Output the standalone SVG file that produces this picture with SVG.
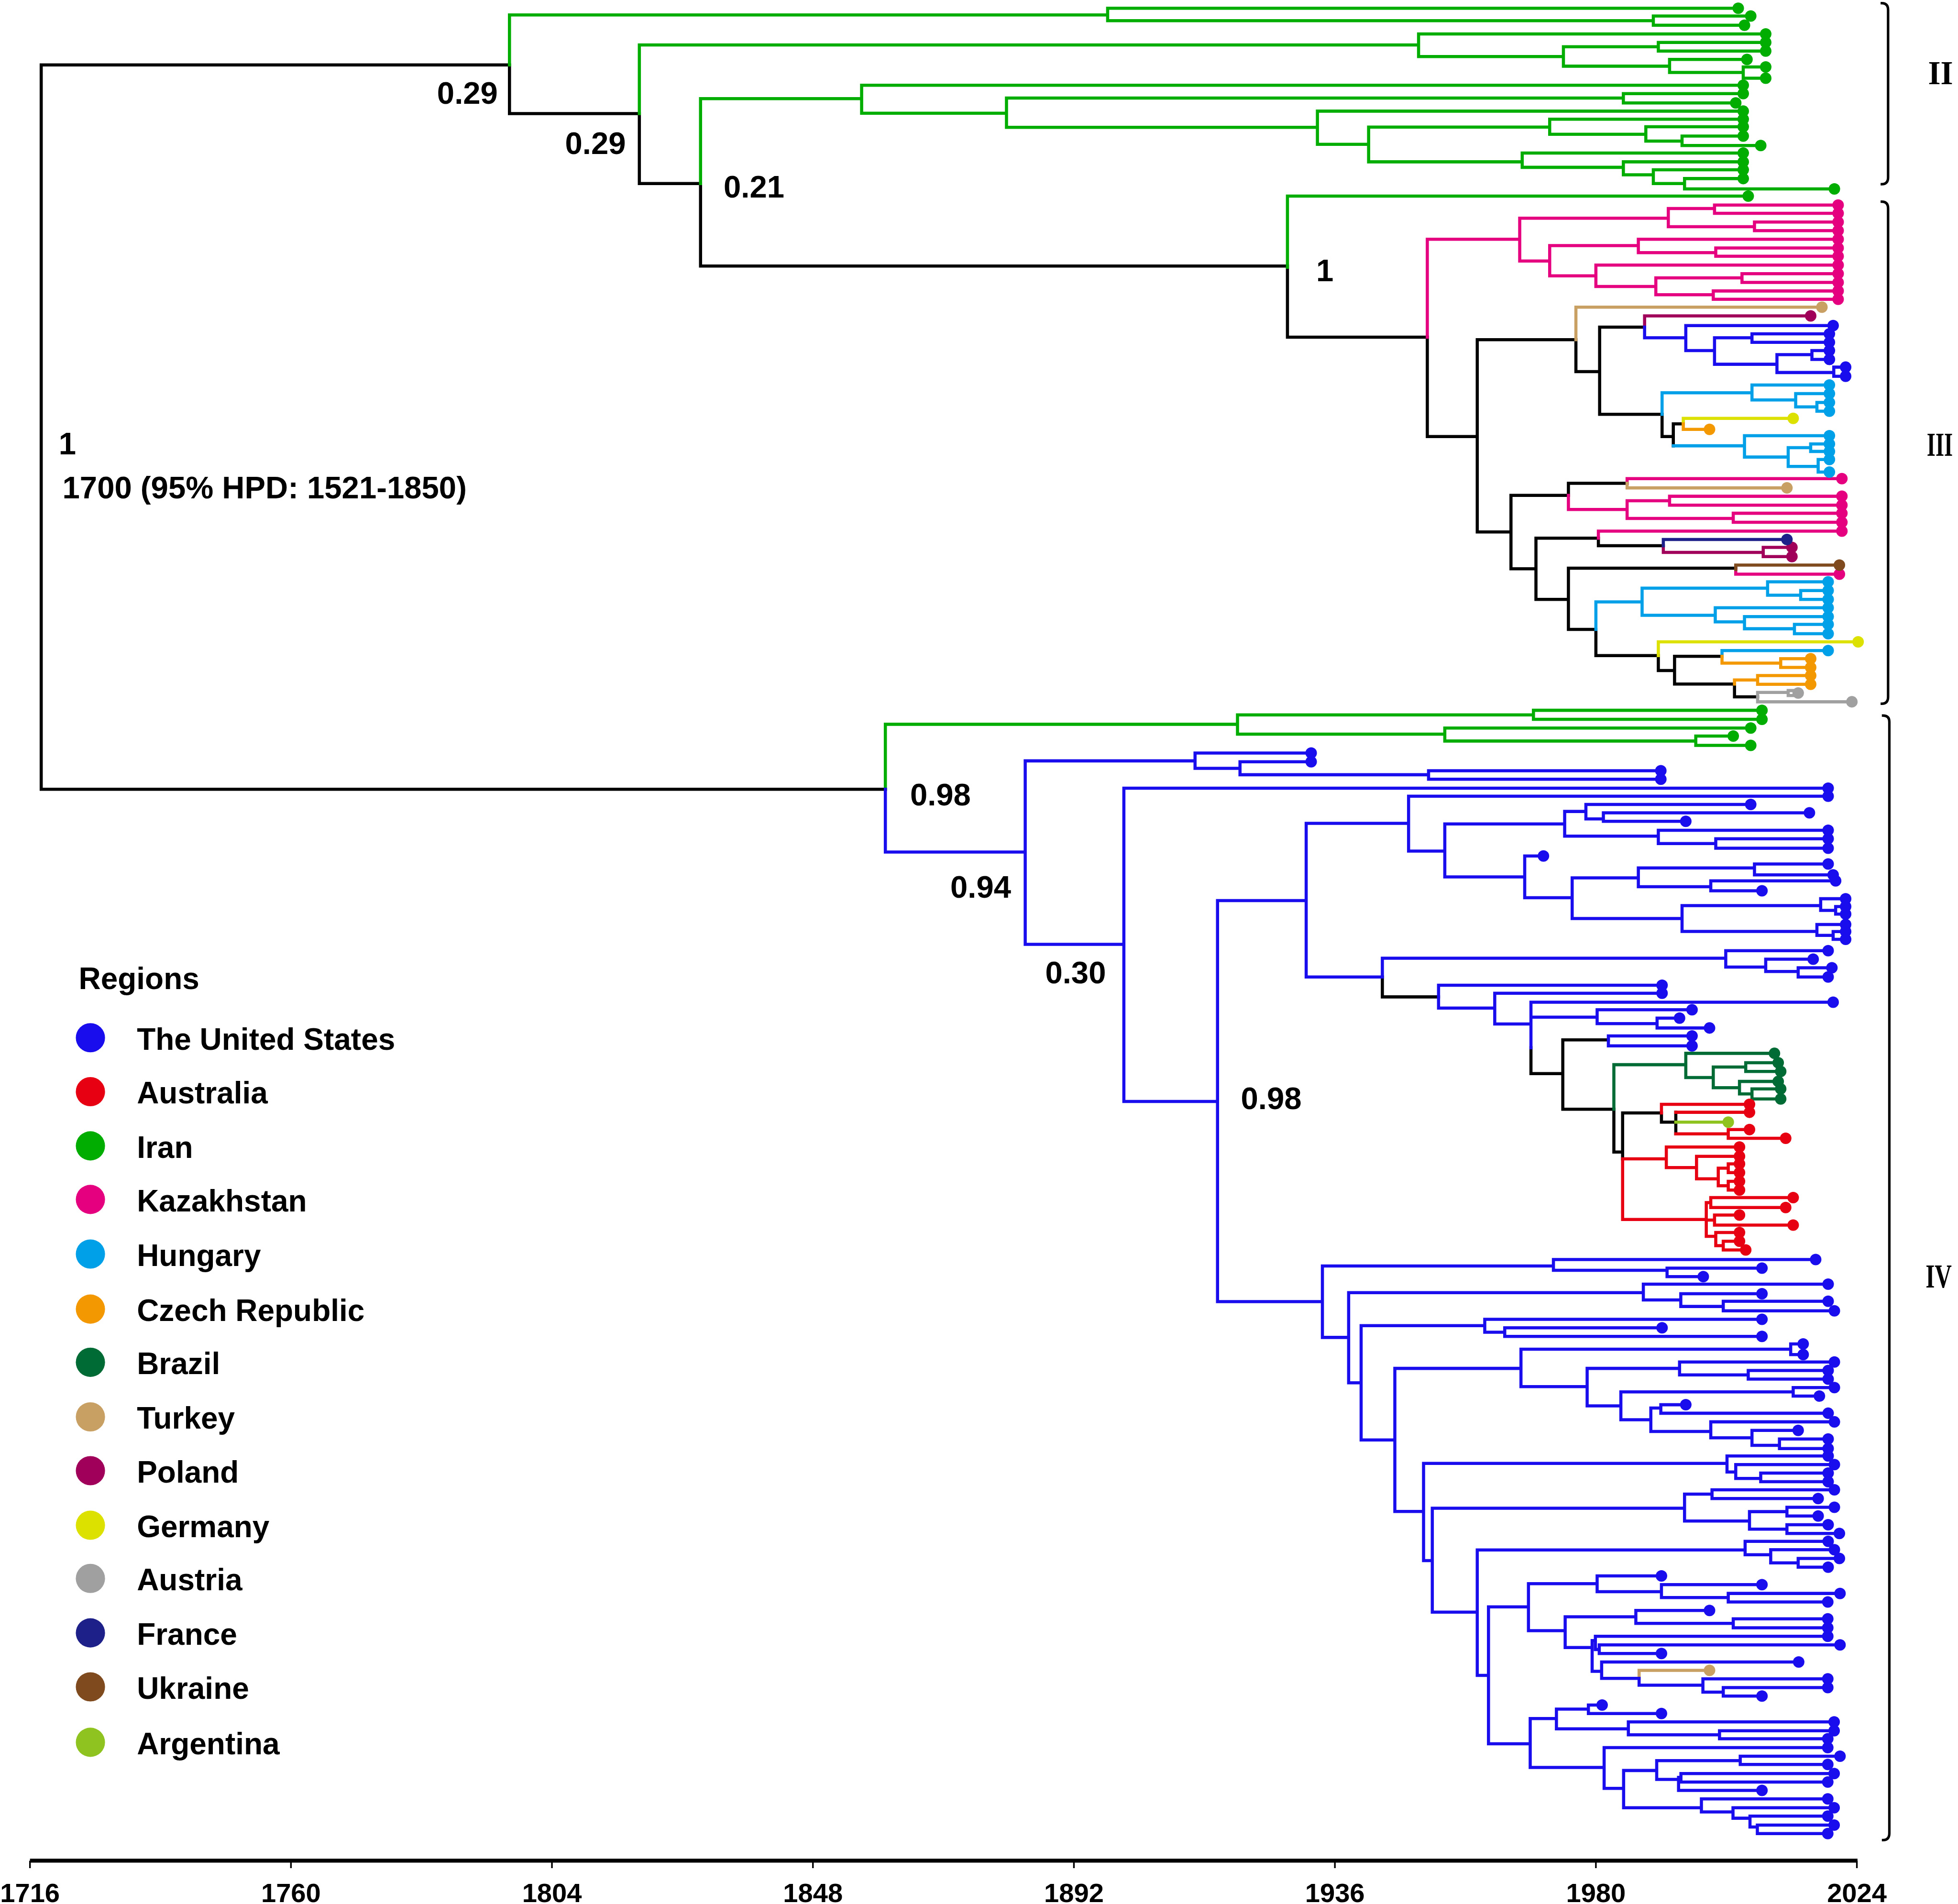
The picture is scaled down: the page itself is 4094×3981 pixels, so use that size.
<svg xmlns="http://www.w3.org/2000/svg" width="4094" height="3981" viewBox="0 0 4094 3981">
<style>
path{fill:none;stroke-width:2.5;stroke-linecap:square}
circle{stroke:none}
text{font-family:"Liberation Sans",Arial,sans-serif;font-weight:bold;fill:#000}
.lbl{font-size:25px}
.leg{font-size:24.5px}
.ax{font-size:21.5px;text-anchor:middle}
.cl{font-family:"Liberation Serif","Times New Roman",serif;font-size:27px}
path.k{stroke:#000}
path.us{stroke:#1a0ded} circle.us{fill:#1a0ded}
path.au{stroke:#e60012} circle.au{fill:#e60012}
path.ir{stroke:#00ad00} circle.ir{fill:#00ad00}
path.kz{stroke:#e4007f} circle.kz{fill:#e4007f}
path.hu{stroke:#00a0e9} circle.hu{fill:#00a0e9}
path.cz{stroke:#f39800} circle.cz{fill:#f39800}
path.br{stroke:#006b35} circle.br{fill:#006b35}
path.tr{stroke:#c9a063} circle.tr{fill:#c9a063}
path.pl{stroke:#a0005a} circle.pl{fill:#a0005a}
path.de{stroke:#dce100} circle.de{fill:#dce100}
path.at{stroke:#a0a0a0} circle.at{fill:#a0a0a0}
path.fr{stroke:#1d2088} circle.fr{fill:#1d2088}
path.ua{stroke:#7f4a1e} circle.ua{fill:#7f4a1e}
path.ar{stroke:#8fc31f} circle.ar{fill:#8fc31f}
path.br2{stroke:#000;stroke-width:2}
path.axl{stroke:#000;stroke-width:3.1;stroke-linecap:butt}
path.tick{stroke:#000;stroke-width:1.3;stroke-linecap:butt}
</style>
<rect width="4094" height="3981" fill="#fff"/>
<g transform="scale(2.611)">
<g id="connectors">
<path class="k" d="M33 52V632M33 52H408M33 632H709M408 52V91M408 91H512M512 91V147M512 147H561M561 147V213M561 213H1031M1031 214V270M1031 270H1143M1143 270V349.6M1143 349.6H1183M1183 272V426M1183 272H1262M1183 426H1210M1262 272V297.6M1262 297.6H1281M1281 262V331.8M1281 262H1317M1281 331.8H1331M1331 331.8V349.6M1331 349.6H1340M1340 339.4V357M1340 339.4H1348M1210 396.7V455.5M1210 396.7H1256M1210 455.5H1230M1256 387V396.7M1256 387H1303M1230 431V480M1230 431H1280M1230 480H1256M1280 431V437M1280 437H1332M1256 455V504M1256 455H1390M1256 504H1278M1278 504V525M1278 525H1328M1328 525V537M1328 537H1341M1341 525.6V547.8M1341 525.6H1379M1341 547.8H1389M1389 547.8V558M1389 558H1407.5M1107 782.4V798.3M1107 798.3H1152M1226 839V859.7M1226 859.7H1251.5M1251.5 832.7V888.3M1251.5 832.7H1288M1251.5 888.3H1292.4M1292.4 888.3V922.5M1292.4 922.5H1299.4M1299.4 891.2V928M1299.4 891.2H1330.5M1330.5 891.2V898.6M1330.5 898.6H1342M1342 890.7V908"/>
<path class="ir" d="M408 12V52M408 12H887M887 6.6V16.6M887 6.6H1392M887 16.6H1324M1324 12.8V20.2M1324 12.8H1402M1324 20.2H1397M512 36V91M512 36H1136M1136 27.2V45.3M1136 27.2H1414M1136 45.3H1252M1252 37.4V53M1252 37.4H1328M1252 53H1337M1328 34V40.9M1328 34H1414M1328 40.9H1414M1337 47.6V58M1337 47.6H1399M1337 58H1396M1396 53.6V62.6M1396 53.6H1414M1396 62.6H1414M561 79V147M561 79H690M690 68.3V90.7M690 68.3H1396M690 90.7H806M806 78.5V102M806 78.5H1300M806 102H1055M1300 75V82.4M1300 75H1396M1300 82.4H1390M1055 89V115.6M1055 89H1396M1055 115.6H1096M1096 101.8V129.6M1096 101.8H1241M1096 129.6H1219M1241 95.5V107.5M1241 95.5H1396M1241 107.5H1318M1318 101.5V113M1318 101.5H1396M1318 113H1347M1347 109V116.5M1347 109H1396M1347 116.5H1410M1219 122.6V134M1219 122.6H1396M1219 134H1300M1300 129.6V140M1300 129.6H1396M1300 140H1324M1324 136V147M1324 136H1396M1324 147H1349M1349 143V151.3M1349 143H1396M1349 151.3H1469M1031 157V214M1031 157H1400M709 580V632M709 580H991M991 572.5V587.9M991 572.5H1228M991 587.9H1157M1228 568.8V576M1228 568.8H1411M1228 576H1411M1157 583V593.4M1157 583H1402M1157 593.4H1358M1358 589.4V596.9M1358 589.4H1388M1358 596.9H1402"/>
<path class="kz" d="M1143 191.6V270M1143 191.6H1217M1217 174.7V209M1217 174.7H1336M1217 209H1241M1336 167V181.5M1336 167H1373M1336 181.5H1405M1373 164.2V170.8M1373 164.2H1472M1373 170.8H1472M1405 177.8V184.7M1405 177.8H1472M1405 184.7H1472M1241 196.7V220.9M1241 196.7H1312M1241 220.9H1278M1312 191.6V202.3M1312 191.6H1472M1312 202.3H1374M1374 198.6V205.2M1374 198.6H1472M1374 205.2H1472M1278 212.3V229.4M1278 212.3H1472M1278 229.4H1326M1326 222.5V236M1326 222.5H1395M1326 236H1372M1395 219.2V226.2M1395 219.2H1472M1395 226.2H1472M1372 233V239.7M1372 233H1472M1372 239.7H1472M1256 396.7V408M1256 408H1303M1303 383.3V387M1303 383.3H1475M1303 401V415.2M1303 401H1337M1303 415.2H1388M1337 397.4V404.5M1337 397.4H1475M1337 404.5H1475M1388 411V418.2M1388 411H1475M1388 418.2H1475M1280 425.3V431M1280 425.3H1475M1390 456V459.8M1390 459.8H1473"/>
<path class="tr" d="M1262 246V272M1262 246H1459M1303 387V390.7M1303 390.7H1431M1312.6 1337.6V1344M1312.6 1337.6H1369"/>
<path class="pl" d="M1317 253V262M1317 253H1450M1332 437V442.4M1332 442.4H1412M1412 438.3V445.7M1412 438.3H1435M1412 445.7H1435"/>
<path class="fr" d="M1332 432V437M1332 432H1431"/>
<path class="ua" d="M1390 452.5V456M1390 452.5H1473"/>
<path class="hu" d="M1331 314.5V331.8M1331 314.5H1403M1403 308.3V320.3M1403 308.3H1465M1403 320.3H1438M1438 315.2V325.8M1438 315.2H1465M1438 325.8H1455M1455 322.3V329.3M1455 322.3H1465M1455 329.3H1465M1340 357H1397M1397 348.9V366M1397 348.9H1465M1397 366H1432M1432 358.5V373.5M1432 358.5H1450M1432 373.5H1456M1450 355.5V361.5M1450 355.5H1465M1450 361.5H1465M1456 368V378M1456 368H1465M1456 378H1465M1278 482V504M1278 482H1315M1315 471V492.7M1315 471H1415.5M1315 492.7H1373.6M1415.5 465.9V476.6M1415.5 465.9H1464M1415.5 476.6H1442M1442 472.9V480M1442 472.9H1464M1442 480H1464M1373.6 486.7V498M1373.6 486.7H1464M1373.6 498H1397M1397 493.8V503.5M1397 493.8H1464M1397 503.5H1437M1437 500V507.5M1437 500H1464M1437 507.5H1464M1379 521V525.6M1379 521H1464"/>
<path class="de" d="M1348 335V339.4M1348 335H1436M1328 514V525M1328 514H1488"/>
<path class="cz" d="M1348 339.4V343.8M1348 343.8H1369M1379 525.6V531M1379 531H1426M1426 527.5V534.5M1426 527.5H1450M1426 534.5H1450M1389 544.5V547.8M1389 544.5H1407.5M1407.5 541V548M1407.5 541H1450M1407.5 548H1450"/>
<path class="at" d="M1407.5 554.5V562M1407.5 554.5H1432M1407.5 562H1483M1432 553V557M1432 553H1440M1432 557H1440"/>
<path class="us" d="M1317 262V270.5M1317 270.5H1350M1350 260.7V280.7M1350 260.7H1468M1350 280.7H1373M1373 270.5V291.7M1373 270.5H1403M1373 291.7H1423M1403 267.3V274.1M1403 267.3H1465M1403 274.1H1465M1423 284V298.3M1423 284H1451M1423 298.3H1468.5M1451 280.7V287.8M1451 280.7H1465M1451 287.8H1465M1468.5 294V301.3M1468.5 294H1478M1468.5 301.3H1478
M709 632V682.3M709 682.3H821M821 609.3V756.2M821 609.3H957M821 756.2H900M957 603V615.3M957 603H1050M957 615.3H993M993 610V620.4M993 610H1050M993 620.4H1144M1144 617.2V624M1144 617.2H1330M1144 624H1330M900 631.2V882M900 631.2H1464M900 882H975M975 721.2V1042.3M975 721.2H1046M975 1042.3H1059M1046 659.3V782.4M1046 659.3H1128M1046 782.4H1107M1128 637.6V681.5M1128 637.6H1464M1128 681.5H1157M1157 659.8V702.2M1157 659.8H1253M1157 702.2H1221M1253 649.8V669.6M1253 649.8H1270M1253 669.6H1328M1270 644.2V655.8M1270 644.2H1402M1270 655.8H1284M1284 650.9V657.7M1284 650.9H1449M1284 657.7H1350M1328 664.9V675.5M1328 664.9H1464M1328 675.5H1374M1374 671.7V679.2M1374 671.7H1464M1374 679.2H1464M1221 685.5V718.9M1221 685.5H1236M1221 718.9H1259M1259 703V735.5M1259 703H1312M1259 735.5H1347M1312 695V710.1M1312 695H1405M1312 710.1H1370M1405 691.9V700.6M1405 691.9H1464M1405 700.6H1468M1370 705.4V713.3M1370 705.4H1470M1370 713.3H1411M1347 725.2V745.9M1347 725.2H1458M1347 745.9H1455M1458 719.7V729M1458 719.7H1478M1458 729H1470M1470 726V732M1470 726H1478M1470 732H1478M1455 740.3V749M1455 740.3H1478M1455 749H1468M1468 746V752.2M1468 746H1478M1468 752.2H1478M1107 767.3V782.4M1107 767.3H1382M1382 761.3V774.4M1382 761.3H1464M1382 774.4H1414M1414 768.1V778M1414 768.1H1452M1414 778H1440M1440 775V782.4M1440 775H1467M1440 782.4H1464M1152 789V807.3M1152 789H1331M1152 807.3H1197M1197 795.4V820M1197 795.4H1331M1197 820H1226M1226 802.6V839M1226 802.6H1468M1226 814.5H1279M1279 808.6V819.7M1279 808.6H1355M1279 819.7H1327M1327 815.3V823.2M1327 815.3H1345M1327 823.2H1369M1288 829.6V837.5M1288 829.6H1355M1288 837.5H1355
M1059 1013.8V1071M1059 1013.8H1244M1059 1071H1080M1244 1008.6V1017.2M1244 1008.6H1454M1244 1017.2H1335M1335 1015.5V1022.3M1335 1015.5H1411M1335 1022.3H1364M1080 1035.1V1107.3M1080 1035.1H1316M1080 1107.3H1090M1316 1028.3V1041M1316 1028.3H1464M1316 1041H1346M1346 1036V1046.2M1346 1036H1411M1346 1046.2H1380M1380 1042V1049.7M1380 1042H1464M1380 1049.7H1469M1090 1061.6V1153.1M1090 1061.6H1189M1090 1153.1H1117M1189 1056.5V1066.8M1189 1056.5H1411M1189 1066.8H1205M1205 1063.3V1070.2M1205 1063.3H1331M1205 1070.2H1411M1117 1095.8V1210.4M1117 1095.8H1218M1117 1210.4H1140M1218 1080.4V1110.4M1218 1080.4H1434M1218 1110.4H1271M1434 1076.2V1084.7M1434 1076.2H1444M1434 1084.7H1444M1271 1095.8V1125.8M1271 1095.8H1345M1271 1125.8H1298M1345 1090.7V1101M1345 1090.7H1469M1345 1101H1400M1400 1097.5V1104.4M1400 1097.5H1464M1400 1104.4H1464M1298 1114.6V1136.9M1298 1114.6H1436M1298 1136.9H1322M1436 1111.2V1118M1436 1111.2H1469M1436 1118H1457M1322 1127.5V1146.3M1322 1127.5H1330M1322 1146.3H1370M1330 1124.9V1131.7M1330 1124.9H1350M1330 1131.7H1464M1370 1138.6V1151.4M1370 1138.6H1469M1370 1151.4H1403M1403 1145.4V1157.4M1403 1145.4H1440M1403 1157.4H1425M1425 1152.3V1160M1425 1152.3H1464M1425 1160H1464M1140 1171.9V1249.7M1140 1171.9H1383M1140 1249.7H1147M1383 1165.9V1178.8M1383 1165.9H1464M1383 1178.8H1390M1390 1172.8V1183.9M1390 1172.8H1469M1390 1183.9H1410M1410 1179.6V1186.5M1410 1179.6H1464M1410 1186.5H1464M1147 1207.8V1291M1147 1207.8H1349M1147 1291H1183M1349 1196.5V1218M1349 1196.5H1371M1349 1218H1401M1371 1193V1200M1371 1193H1469M1371 1200H1456M1401 1210.5V1224.5M1401 1210.5H1431M1401 1224.5H1431M1431 1207V1214M1431 1207H1469M1431 1214H1456M1431 1221V1228M1431 1221H1464M1431 1228H1473
M1183 1241.2V1341.6M1183 1241.2H1397.5M1183 1341.6H1192M1397.5 1234.3V1245M1397.5 1234.3H1464M1397.5 1245H1418M1418 1241V1251.5M1418 1241H1469M1418 1251.5H1440M1440 1248V1255M1440 1248H1473M1440 1255H1464M1192 1286.8V1396.4M1192 1286.8H1224M1192 1396.4H1225.4M1224 1268.2V1305.8M1224 1268.2H1279M1224 1305.8H1253.4M1279 1262V1274.6M1279 1262H1330.5M1279 1274.6H1330.5M1330.5 1269V1279.3M1330.5 1269H1411M1330.5 1279.3H1384M1384 1276V1282.8M1384 1276H1473.5M1384 1282.8H1463.7M1253.4 1294.7V1319.3M1253.4 1294.7H1310M1253.4 1319.3H1275M1310 1289.6V1300M1310 1289.6H1369M1310 1300H1388M1388 1296.3V1303.5M1388 1296.3H1463.7M1388 1303.5H1463.7M1275 1313.8V1338.4M1275 1313.8H1277.6M1275 1338.4H1282.6M1277.6 1310.3V1320.9M1277.6 1310.3H1463.7M1277.6 1320.9H1280.7M1280.7 1317.2V1324.1M1280.7 1317.2H1473.5M1280.7 1324.1H1330.5M1282.6 1330.9V1344M1282.6 1330.9H1440.4M1282.6 1344H1312.6M1312.6 1344V1349.5M1312.6 1349.5H1363.7M1363.7 1344.4V1355M1363.7 1344.4H1463.7M1363.7 1355H1380M1380 1351.4V1358.2M1380 1351.4H1463.7M1380 1358.2H1411M1225.4 1376.2V1415.4M1225.4 1376.2H1246.4M1225.4 1415.4H1284.6M1246.4 1368.6V1384.4M1246.4 1368.6H1272M1246.4 1384.4H1304M1272 1365.4V1372.2M1272 1365.4H1283M1272 1372.2H1330.5M1304 1378.9V1389.2M1304 1378.9H1468.8M1304 1389.2H1377M1377 1386V1392.4M1377 1386H1468.8M1377 1392.4H1463.7M1284.6 1399.5V1432.1M1284.6 1399.5H1463.7M1284.6 1432.1H1300.2M1300.2 1417.8V1447.6M1300.2 1417.8H1326.7M1300.2 1447.6H1362.5M1326.7 1409.9V1424.9M1326.7 1409.9H1393.6M1326.7 1424.9H1344.2M1393.6 1406.4V1413M1393.6 1406.4H1473.5M1393.6 1413H1463.7M1344.2 1423.3V1433.7M1344.2 1423.3H1346.1M1344.2 1433.7H1411M1346.1 1420.2V1427M1346.1 1420.2H1468.8M1346.1 1427H1463.7M1362.5 1440.5V1451M1362.5 1440.5H1463.7M1362.5 1451H1387.8M1387.8 1447.6V1456M1387.8 1447.6H1468.8M1387.8 1456H1401.4M1401.4 1454.3V1463M1401.4 1454.3H1463.7M1401.4 1463H1407.3M1407.3 1461.5V1468.3M1407.3 1461.5H1468.8M1407.3 1468.3H1463.7"/>
<path class="br" d="M1292.4 852.6V888.3M1292.4 852.6H1350M1350 843.5V862.9M1350 843.5H1421M1350 862.9H1372M1372 854.5V871M1372 854.5H1398M1372 871H1393M1398 851V858M1398 851H1424M1398 858H1426M1393 866V876M1393 866H1424M1393 876H1403M1403 872V880M1403 872H1426M1403 880H1426"/>
<path class="au" d="M1330.5 884.3V891.2M1330.5 884.3H1401M1342 890.7H1401M1342 908H1384M1384 904.5V911.5M1384 904.5H1401M1384 911.5H1430M1299.4 928V976.5M1299.4 928H1334.4M1299.4 976.5H1366.4M1334.4 918.5V935M1334.4 918.5H1393M1334.4 935H1358.6M1358.6 926V944M1358.6 926H1393M1358.6 944H1376M1376 935.5V949.5M1376 935.5H1384M1376 949.5H1384M1384 932V939M1384 932H1393M1384 939H1393M1384 946V953M1384 946H1393M1384 953H1393M1366.4 963V990M1366.4 963H1370M1366.4 977H1373M1366.4 990H1374M1370 959V967M1370 959H1436M1370 967H1430M1373 973V981M1373 973H1393M1373 981H1436M1374 987V997.5M1374 987H1393M1374 997.5H1380M1380 994V1001M1380 994H1393M1380 1001H1398"/>
<path class="ar" d="M1342 898.6H1384"/>
</g>
<g id="tips-iran">
<circle class="ir" r="4.6" cx="1392" cy="6.6"/><circle class="ir" r="4.6" cx="1402" cy="12.8"/><circle class="ir" r="4.6" cx="1397" cy="20.2"/><circle class="ir" r="4.6" cx="1414" cy="27.2"/><circle class="ir" r="4.6" cx="1414" cy="34"/><circle class="ir" r="4.6" cx="1414" cy="40.9"/><circle class="ir" r="4.6" cx="1399" cy="47.6"/><circle class="ir" r="4.6" cx="1414" cy="53.6"/><circle class="ir" r="4.6" cx="1414" cy="62.6"/><circle class="ir" r="4.6" cx="1396" cy="68.3"/><circle class="ir" r="4.6" cx="1396" cy="75"/><circle class="ir" r="4.6" cx="1390" cy="82.4"/><circle class="ir" r="4.6" cx="1396" cy="89"/><circle class="ir" r="4.6" cx="1396" cy="95.5"/><circle class="ir" r="4.6" cx="1396" cy="101.5"/><circle class="ir" r="4.6" cx="1396" cy="109"/><circle class="ir" r="4.6" cx="1410" cy="116.5"/><circle class="ir" r="4.6" cx="1396" cy="122.6"/><circle class="ir" r="4.6" cx="1396" cy="129.6"/><circle class="ir" r="4.6" cx="1396" cy="136"/><circle class="ir" r="4.6" cx="1396" cy="143"/><circle class="ir" r="4.6" cx="1469" cy="151.3"/><circle class="ir" r="4.6" cx="1400" cy="157"/>
<circle class="ir" r="4.6" cx="1411" cy="568.8"/><circle class="ir" r="4.6" cx="1411" cy="576"/><circle class="ir" r="4.6" cx="1402" cy="583"/><circle class="ir" r="4.6" cx="1388" cy="589.4"/><circle class="ir" r="4.6" cx="1402" cy="596.9"/>
</g>
<g id="tips-kazakhstan">
<circle class="kz" r="4.6" cx="1472" cy="164.2"/><circle class="kz" r="4.6" cx="1472" cy="170.8"/><circle class="kz" r="4.6" cx="1472" cy="177.8"/><circle class="kz" r="4.6" cx="1472" cy="184.7"/><circle class="kz" r="4.6" cx="1472" cy="191.6"/><circle class="kz" r="4.6" cx="1472" cy="198.6"/><circle class="kz" r="4.6" cx="1472" cy="205.2"/><circle class="kz" r="4.6" cx="1472" cy="212.3"/><circle class="kz" r="4.6" cx="1472" cy="219.2"/><circle class="kz" r="4.6" cx="1472" cy="226.2"/><circle class="kz" r="4.6" cx="1472" cy="233"/><circle class="kz" r="4.6" cx="1472" cy="239.7"/>
<circle class="kz" r="4.6" cx="1475" cy="383.3"/><circle class="kz" r="4.6" cx="1475" cy="397.4"/><circle class="kz" r="4.6" cx="1475" cy="404.5"/><circle class="kz" r="4.6" cx="1475" cy="411"/><circle class="kz" r="4.6" cx="1475" cy="418.2"/><circle class="kz" r="4.6" cx="1475" cy="425.3"/><circle class="kz" r="4.6" cx="1473" cy="459.8"/>
</g>
<g id="tips-other">
<circle class="tr" r="4.6" cx="1459" cy="246"/><circle class="tr" r="4.6" cx="1431" cy="390.7"/><circle class="tr" r="4.6" cx="1369" cy="1337.6"/>
<circle class="pl" r="4.6" cx="1450" cy="253"/><circle class="pl" r="4.6" cx="1435" cy="438.3"/><circle class="pl" r="4.6" cx="1435" cy="445.7"/>
<circle class="fr" r="4.6" cx="1431" cy="432"/>
<circle class="ua" r="4.6" cx="1473" cy="452.5"/>
<circle class="de" r="4.6" cx="1436" cy="335"/><circle class="de" r="4.6" cx="1488" cy="514"/>
<circle class="cz" r="4.6" cx="1369" cy="343.8"/><circle class="cz" r="4.6" cx="1450" cy="527.5"/><circle class="cz" r="4.6" cx="1450" cy="534.5"/><circle class="cz" r="4.6" cx="1450" cy="541"/><circle class="cz" r="4.6" cx="1450" cy="548"/>
<circle class="at" r="4.6" cx="1440" cy="555"/><circle class="at" r="4.6" cx="1483" cy="562"/>
<circle class="ar" r="4.6" cx="1384" cy="898.6"/>
</g>
<g id="tips-hungary">
<circle class="hu" r="4.6" cx="1465" cy="308.3"/><circle class="hu" r="4.6" cx="1465" cy="315.2"/><circle class="hu" r="4.6" cx="1465" cy="322.3"/><circle class="hu" r="4.6" cx="1465" cy="329.3"/><circle class="hu" r="4.6" cx="1465" cy="348.9"/><circle class="hu" r="4.6" cx="1465" cy="355.5"/><circle class="hu" r="4.6" cx="1465" cy="361.5"/><circle class="hu" r="4.6" cx="1465" cy="368"/><circle class="hu" r="4.6" cx="1465" cy="378"/><circle class="hu" r="4.6" cx="1464" cy="465.9"/><circle class="hu" r="4.6" cx="1464" cy="472.9"/><circle class="hu" r="4.6" cx="1464" cy="480"/><circle class="hu" r="4.6" cx="1464" cy="486.7"/><circle class="hu" r="4.6" cx="1464" cy="493.8"/><circle class="hu" r="4.6" cx="1464" cy="500"/><circle class="hu" r="4.6" cx="1464" cy="507.5"/><circle class="hu" r="4.6" cx="1464" cy="521"/>
</g>
<g id="tips-brazil">
<circle class="br" r="4.6" cx="1421" cy="843.5"/><circle class="br" r="4.6" cx="1424" cy="851"/><circle class="br" r="4.6" cx="1426" cy="858"/><circle class="br" r="4.6" cx="1424" cy="866"/><circle class="br" r="4.6" cx="1426" cy="872"/><circle class="br" r="4.6" cx="1426" cy="880"/>
</g>
<g id="tips-australia">
<circle class="au" r="4.6" cx="1401" cy="884.3"/><circle class="au" r="4.6" cx="1401" cy="890.7"/><circle class="au" r="4.6" cx="1401" cy="904.5"/><circle class="au" r="4.6" cx="1430" cy="911.5"/><circle class="au" r="4.6" cx="1393" cy="918.5"/><circle class="au" r="4.6" cx="1393" cy="926"/><circle class="au" r="4.6" cx="1393" cy="932"/><circle class="au" r="4.6" cx="1393" cy="939"/><circle class="au" r="4.6" cx="1393" cy="946"/><circle class="au" r="4.6" cx="1393" cy="953"/><circle class="au" r="4.6" cx="1436" cy="959"/><circle class="au" r="4.6" cx="1430" cy="967"/><circle class="au" r="4.6" cx="1393" cy="973"/><circle class="au" r="4.6" cx="1436" cy="981"/><circle class="au" r="4.6" cx="1393" cy="987"/><circle class="au" r="4.6" cx="1393" cy="994"/><circle class="au" r="4.6" cx="1398" cy="1001"/>
</g>
<g id="tips-us">
<circle class="us" r="4.6" cx="1468" cy="260.7"/><circle class="us" r="4.6" cx="1465" cy="267.3"/><circle class="us" r="4.6" cx="1465" cy="274.1"/><circle class="us" r="4.6" cx="1465" cy="280.7"/><circle class="us" r="4.6" cx="1465" cy="287.8"/><circle class="us" r="4.6" cx="1478" cy="294"/><circle class="us" r="4.6" cx="1478" cy="301.3"/>
<circle class="us" r="4.6" cx="1050" cy="603"/><circle class="us" r="4.6" cx="1050" cy="610"/><circle class="us" r="4.6" cx="1330" cy="617.2"/><circle class="us" r="4.6" cx="1330" cy="624"/><circle class="us" r="4.6" cx="1464" cy="631.2"/><circle class="us" r="4.6" cx="1464" cy="637.6"/><circle class="us" r="4.6" cx="1402" cy="644.2"/><circle class="us" r="4.6" cx="1449" cy="650.9"/><circle class="us" r="4.6" cx="1350" cy="657.7"/><circle class="us" r="4.6" cx="1464" cy="664.9"/><circle class="us" r="4.6" cx="1464" cy="671.7"/><circle class="us" r="4.6" cx="1464" cy="679.2"/><circle class="us" r="4.6" cx="1236" cy="685.5"/><circle class="us" r="4.6" cx="1464" cy="691.9"/><circle class="us" r="4.6" cx="1468" cy="700.6"/><circle class="us" r="4.6" cx="1470" cy="705.4"/><circle class="us" r="4.6" cx="1411" cy="713.3"/><circle class="us" r="4.6" cx="1478" cy="719.7"/><circle class="us" r="4.6" cx="1478" cy="726"/><circle class="us" r="4.6" cx="1478" cy="732"/><circle class="us" r="4.6" cx="1478" cy="740.3"/><circle class="us" r="4.6" cx="1478" cy="746"/><circle class="us" r="4.6" cx="1478" cy="752.2"/><circle class="us" r="4.6" cx="1464" cy="761.3"/><circle class="us" r="4.6" cx="1452" cy="768.1"/><circle class="us" r="4.6" cx="1467" cy="775"/><circle class="us" r="4.6" cx="1464" cy="782.4"/><circle class="us" r="4.6" cx="1331" cy="789"/><circle class="us" r="4.6" cx="1331" cy="795.4"/><circle class="us" r="4.6" cx="1468" cy="802.6"/><circle class="us" r="4.6" cx="1355" cy="808.6"/><circle class="us" r="4.6" cx="1345" cy="815.3"/><circle class="us" r="4.6" cx="1369" cy="823.2"/><circle class="us" r="4.6" cx="1355" cy="829.6"/><circle class="us" r="4.6" cx="1355" cy="837.5"/>
<circle class="us" r="4.6" cx="1454" cy="1008.6"/><circle class="us" r="4.6" cx="1411" cy="1015.5"/><circle class="us" r="4.6" cx="1364" cy="1022.3"/><circle class="us" r="4.6" cx="1464" cy="1028.3"/><circle class="us" r="4.6" cx="1411" cy="1036"/><circle class="us" r="4.6" cx="1464" cy="1042"/><circle class="us" r="4.6" cx="1469" cy="1049.7"/><circle class="us" r="4.6" cx="1411" cy="1056.5"/><circle class="us" r="4.6" cx="1331" cy="1063.3"/><circle class="us" r="4.6" cx="1411" cy="1070.2"/><circle class="us" r="4.6" cx="1444" cy="1076.2"/><circle class="us" r="4.6" cx="1444" cy="1084.7"/><circle class="us" r="4.6" cx="1469" cy="1090.7"/><circle class="us" r="4.6" cx="1464" cy="1097.5"/><circle class="us" r="4.6" cx="1464" cy="1104.4"/><circle class="us" r="4.6" cx="1469" cy="1111.2"/><circle class="us" r="4.6" cx="1457" cy="1118"/><circle class="us" r="4.6" cx="1350" cy="1124.9"/><circle class="us" r="4.6" cx="1464" cy="1131.7"/><circle class="us" r="4.6" cx="1469" cy="1138.6"/><circle class="us" r="4.6" cx="1440" cy="1145.4"/><circle class="us" r="4.6" cx="1464" cy="1152.3"/><circle class="us" r="4.6" cx="1464" cy="1160"/><circle class="us" r="4.6" cx="1464" cy="1165.9"/><circle class="us" r="4.6" cx="1469" cy="1172.8"/><circle class="us" r="4.6" cx="1464" cy="1179.6"/><circle class="us" r="4.6" cx="1464" cy="1186.5"/><circle class="us" r="4.6" cx="1469" cy="1193"/><circle class="us" r="4.6" cx="1456" cy="1200"/><circle class="us" r="4.6" cx="1469" cy="1207"/><circle class="us" r="4.6" cx="1456" cy="1214"/><circle class="us" r="4.6" cx="1464" cy="1221"/><circle class="us" r="4.6" cx="1473" cy="1228"/><circle class="us" r="4.6" cx="1464" cy="1234.3"/><circle class="us" r="4.6" cx="1469" cy="1241"/><circle class="us" r="4.6" cx="1473" cy="1248"/><circle class="us" r="4.6" cx="1464" cy="1255"/>
<circle class="us" r="4.6" cx="1330.5" cy="1262"/><circle class="us" r="4.6" cx="1411" cy="1269"/><circle class="us" r="4.6" cx="1473.5" cy="1276"/><circle class="us" r="4.6" cx="1463.7" cy="1282.8"/><circle class="us" r="4.6" cx="1369" cy="1289.6"/><circle class="us" r="4.6" cx="1463.7" cy="1296.3"/><circle class="us" r="4.6" cx="1463.7" cy="1303.5"/><circle class="us" r="4.6" cx="1463.7" cy="1310.3"/><circle class="us" r="4.6" cx="1473.5" cy="1317.2"/><circle class="us" r="4.6" cx="1330.5" cy="1324.1"/><circle class="us" r="4.6" cx="1440.4" cy="1330.9"/><circle class="us" r="4.6" cx="1463.7" cy="1344.4"/><circle class="us" r="4.6" cx="1463.7" cy="1351.4"/><circle class="us" r="4.6" cx="1411" cy="1358.2"/><circle class="us" r="4.6" cx="1283" cy="1365.4"/><circle class="us" r="4.6" cx="1330.5" cy="1372.2"/><circle class="us" r="4.6" cx="1468.8" cy="1378.9"/><circle class="us" r="4.6" cx="1468.8" cy="1386"/><circle class="us" r="4.6" cx="1463.7" cy="1392.4"/><circle class="us" r="4.6" cx="1463.7" cy="1399.5"/><circle class="us" r="4.6" cx="1473.5" cy="1406.4"/><circle class="us" r="4.6" cx="1463.7" cy="1413"/><circle class="us" r="4.6" cx="1468.8" cy="1420.2"/><circle class="us" r="4.6" cx="1463.7" cy="1427"/><circle class="us" r="4.6" cx="1411" cy="1433.7"/><circle class="us" r="4.6" cx="1463.7" cy="1440.5"/><circle class="us" r="4.6" cx="1468.8" cy="1447.6"/><circle class="us" r="4.6" cx="1463.7" cy="1454.3"/><circle class="us" r="4.6" cx="1468.8" cy="1461.5"/><circle class="us" r="4.6" cx="1463.7" cy="1468.3"/>
</g>
<g id="node-labels">
<text class="lbl" x="350" y="83">0.29</text>
<text class="lbl" x="452.5" y="123.2">0.29</text>
<text class="lbl" x="579.5" y="158.3">0.21</text>
<text class="lbl" x="1054" y="225.3">1</text>
<text class="lbl" x="47" y="364">1</text>
<text class="lbl" x="50" y="399">1700 (95% HPD: 1521-1850)</text>
<text class="lbl" x="728.8" y="645">0.98</text>
<text class="lbl" x="761" y="719">0.94</text>
<text class="lbl" x="837" y="787.5">0.30</text>
<text class="lbl" x="993.7" y="888.3">0.98</text>
</g>
<g id="clade-II">
<path class="br2" d="M1507 2.5Q1512 2.5 1512 8V142Q1512 147.5 1507 147.5"/>
<text class="cl" transform="translate(1544 67.5) scale(0.95 1)">II</text>
</g>
<g id="clade-III">
<path class="br2" d="M1507 161.5Q1512 161.5 1512 167V558Q1512 563.5 1507 563.5"/>
<text class="cl" transform="translate(1543 365) scale(0.66 1)">III</text>
</g>
<g id="clade-IV">
<path class="br2" d="M1508 573Q1513 573 1513 578V1468Q1513 1473.5 1508 1473.5"/>
<text class="cl" transform="translate(1542 1031) scale(0.7 1)">IV</text>
</g>
<g id="axis">
<path class="axl" d="M24 1490H1487.5"/>
<path class="tick" d="M24 1490V1496M233 1490V1496M442 1490V1496M651 1490V1496M860 1490V1496M1069 1490V1496M1278 1490V1496M1487 1490V1496"/>
<text class="ax" x="24" y="1523">1716</text>
<text class="ax" x="233" y="1523">1760</text>
<text class="ax" x="442" y="1523">1804</text>
<text class="ax" x="651" y="1523">1848</text>
<text class="ax" x="860" y="1523">1892</text>
<text class="ax" x="1069" y="1523">1936</text>
<text class="ax" x="1278" y="1523">1980</text>
<text class="ax" x="1487" y="1523">2024</text>
</g>
<g id="legend">
<text class="leg" x="63" y="792">Regions</text>
<g id="leg-us"><circle class="us" cx="72.4" cy="831" r="11.7"/><text class="leg" x="109.6" y="840.5">The United States</text></g>
<g id="leg-au"><circle class="au" cx="72.4" cy="874.2" r="11.7"/><text class="leg" x="109.6" y="883.7">Australia</text></g>
<g id="leg-ir"><circle class="ir" cx="72.4" cy="917.6" r="11.7"/><text class="leg" x="109.6" y="927.1">Iran</text></g>
<g id="leg-kz"><circle class="kz" cx="72.4" cy="960.5" r="11.7"/><text class="leg" x="109.6" y="970">Kazakhstan</text></g>
<g id="leg-hu"><circle class="hu" cx="72.4" cy="1004.2" r="11.7"/><text class="leg" x="109.6" y="1013.7">Hungary</text></g>
<g id="leg-cz"><circle class="cz" cx="72.4" cy="1048.3" r="11.7"/><text class="leg" x="109.6" y="1057.8">Czech Republic</text></g>
<g id="leg-br"><circle class="br" cx="72.4" cy="1090.9" r="11.7"/><text class="leg" x="109.6" y="1100.4">Brazil</text></g>
<g id="leg-tr"><circle class="tr" cx="72.4" cy="1134.6" r="11.7"/><text class="leg" x="109.6" y="1144.1">Turkey</text></g>
<g id="leg-pl"><circle class="pl" cx="72.4" cy="1177.7" r="11.7"/><text class="leg" x="109.6" y="1187.2">Poland</text></g>
<g id="leg-de"><circle class="de" cx="72.4" cy="1221.4" r="11.7"/><text class="leg" x="109.6" y="1230.9">Germany</text></g>
<g id="leg-at"><circle class="at" cx="72.4" cy="1264" r="11.7"/><text class="leg" x="109.6" y="1273.5">Austria</text></g>
<g id="leg-fr"><circle class="fr" cx="72.4" cy="1307.6" r="11.7"/><text class="leg" x="109.6" y="1317.1">France</text></g>
<g id="leg-ua"><circle class="ua" cx="72.4" cy="1350.8" r="11.7"/><text class="leg" x="109.6" y="1360.3">Ukraine</text></g>
<g id="leg-ar"><circle class="ar" cx="72.4" cy="1395.2" r="11.7"/><text class="leg" x="109.6" y="1404.7">Argentina</text></g>
</g>
</g>
</svg>
